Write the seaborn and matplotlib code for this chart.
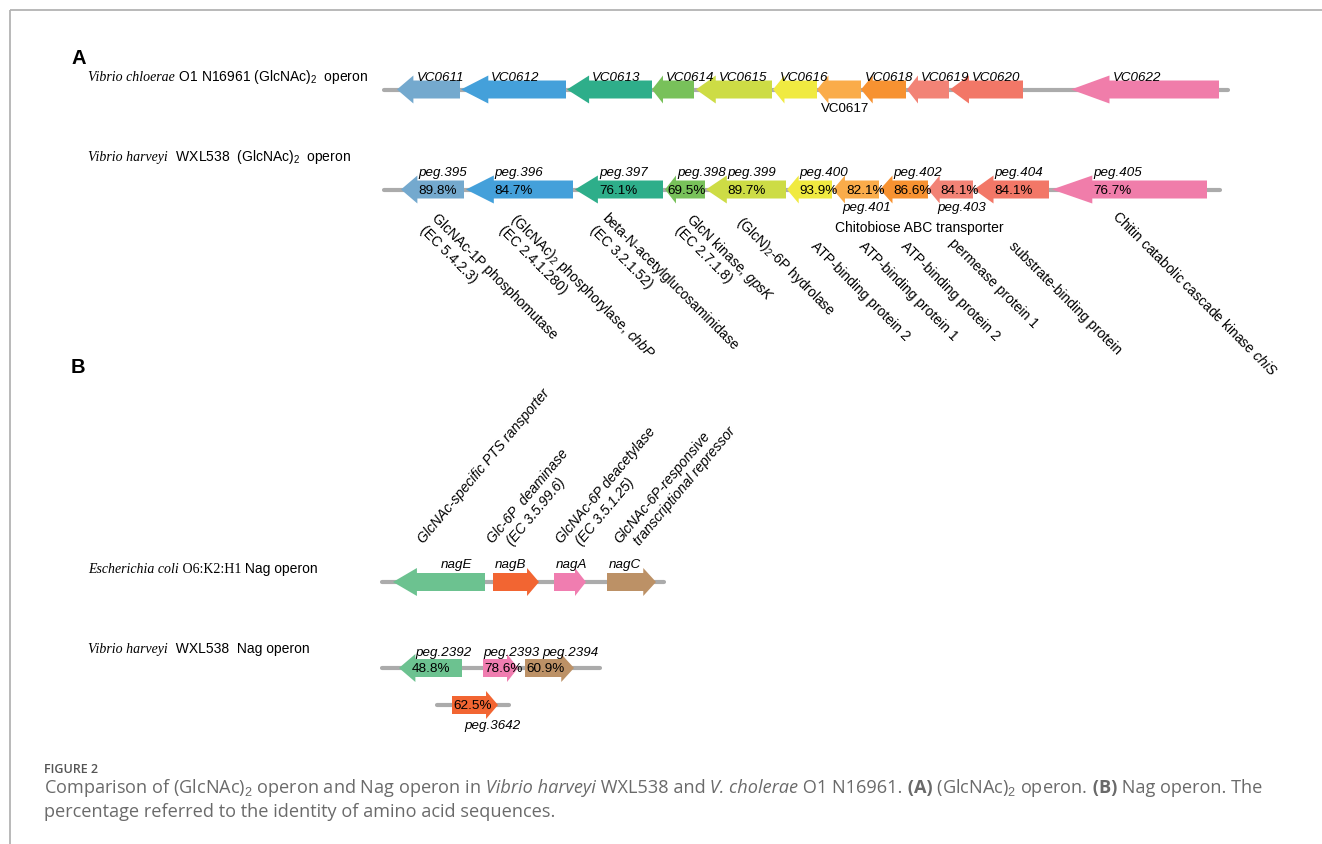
import matplotlib
matplotlib.use("Agg")
import matplotlib.pyplot as plt
from matplotlib.patches import Polygon
import numpy as np
import pandas as pd
import seaborn as sns

sns.set_theme(style="white")
plt.rcParams["font.family"] = ["Liberation Sans", "DejaVu Sans"]
plt.rcParams["text.color"] = "black"
plt.rcParams["mathtext.fontset"] = "custom"
plt.rcParams["mathtext.rm"] = "Liberation Sans"
plt.rcParams["mathtext.it"] = "Liberation Sans:italic"
plt.rcParams["mathtext.bf"] = "Liberation Sans:bold"

# ---------------------------------------------------------------- data
# (GlcNAc)2 operon of V. cholerae O1 N16961 (all genes on the minus strand)
vc_genes = ["VC0611", "VC0612", "VC0613", "VC0614", "VC0615", "VC0616",
            "VC0617", "VC0618", "VC0619", "VC0620", "VC0622"]
vc_start = [397, 461, 567, 652, 696, 773, 817, 861, 907, 950, 1071]
vc_end = [460, 566, 652, 694, 772, 817, 861, 906, 949, 1023, 1219]

# (GlcNAc)2 operon of V. harveyi WXL538 and identity to the V. cholerae homolog
vh_genes = ["peg.395", "peg.396", "peg.397", "peg.398", "peg.399", "peg.400",
            "peg.401", "peg.402", "peg.403", "peg.404", "peg.405"]
vh_start = [401, 466, 575, 665, 706, 787, 833, 880, 928, 974, 1052]
vh_end = [464, 573, 663, 705, 786, 832, 879, 928, 973, 1049, 1207]
vh_identity = [89.8, 84.7, 76.1, 69.5, 89.7, 93.9, 82.1, 86.6, 84.1, 84.1, 76.7]

chb_colors = ["#74A9CE", "#44A0DA", "#2EAE8A", "#78C15A", "#CDDC45", "#F0EA41",
              "#FAAC4A", "#F79231", "#F28376", "#F27767", "#F07DAA"]

chb_functions = [
    ["GlcNAc-1P phosphomutase", "(EC 5.4.2.3)"],
    ["(GlcNAc)$_2$ phosphorylase, $\\mathit{chbP}$", "(EC 2.4.1.280)"],
    ["beta-N-acetylglucosaminidase", "(EC 3.2.1.52)"],
    ["GlcN kinase, $\\mathit{gpsK}$", "(EC 2.7.1.8)"],
    ["(GlcN)$_2$-6P hydrolase"],
    ["ATP-binding protein 2"],
    ["ATP-binding protein 1"],
    ["ATP-binding protein 2"],
    ["permease protein 1"],
    ["substrate-binding protein"],
    ["Chitin catabolic cascade kinase $\\mathit{chiS}$"],
]

# Nag operon of E. coli O6:K2:H1
ec_genes = ["nagE", "nagB", "nagA", "nagC"]
ec_start = [393, 493, 554, 607]
ec_end = [485, 539, 586, 656]
ec_strand = [-1, 1, 1, 1]
nag_colors = ["#6CC290", "#F26532", "#F07DB0", "#BC9166"]
nag_functions = [
    ["GlcNAc-specific PTS ransporter"],
    ["Glc-6P  deaminase", "(EC 3.5.99.6)"],
    ["GlcNAc-6P deacetylase", "(EC 3.5.1.25)"],
    ["GlcNAc-6P-responsive", "transcriptional repressor"],
]

# Nag operon of V. harveyi WXL538 (peg.3642 lies elsewhere in the genome)
vhn_genes = ["peg.2392", "peg.2393", "peg.2394", "peg.3642"]
vhn_start = [399, 483, 525, 452]
vhn_end = [462, 518, 574, 498]
vhn_strand = [-1, 1, 1, 1]
vhn_identity = [48.8, 78.6, 60.9, 62.5]
vhn_homolog = ["nagE", "nagA", "nagC", "nagB"]

# ---------------------------------------------------------------- layout
W, H = 1322, 845
fig = plt.figure(figsize=(W / 100, H / 100), dpi=100)
ax = fig.add_axes([0, 0, 1, 1])

Y_VC, Y_VH, Y_EC, Y_VHN, Y_VHN2 = 90.5, 190.5, 583, 669, 706
BODY, HEAD = 9, 14

# chromosome backbones
backbone = pd.DataFrame({
    "track": ["vc", "vc", "vh", "vh", "ec", "ec", "vhn", "vhn", "vhn2", "vhn2"],
    "x": [384, 1228, 384, 1220, 382, 664, 382, 600, 437, 509],
    "y": [Y_VC, Y_VC, Y_VH, Y_VH, Y_EC, Y_EC, Y_VHN, Y_VHN, Y_VHN2, Y_VHN2],
})
sns.lineplot(data=backbone, x="x", y="y", units="track", estimator=None,
             sort=False, color="#ababab", lw=3, ax=ax, legend=False, zorder=1)


def gene(start, end, strand, y, color):
    """Draw a gene arrow, return the extent of its body."""
    length = end - start
    head = min(max(0.26 * length, 11), length)
    if strand < 0:
        tip, base, tail = start, start + head, end
    else:
        tip, base, tail = end, end - head, start
    pts = [(tip, y), (base, y - HEAD), (base, y - BODY), (tail, y - BODY),
           (tail, y + BODY), (base, y + BODY), (base, y + HEAD)]
    ax.add_patch(Polygon(pts, closed=True, fc=color, ec="none", zorder=2))
    return min(base, tail), max(base, tail)


renderer = fig.canvas.get_renderer()


def runs(x, y, parts, **common):
    """Write text pieces with different styles one after another."""
    for txt, style in parts:
        kw = dict(common)
        kw.update(style)
        t = ax.text(x, y, txt, **kw)
        x += t.get_window_extent(renderer=renderer).width


def rotated(x, y, lines, angle, spacing=17, indent=0, **kw):
    """Multi-line rotated label; (x, y) is the baseline start of line 1."""
    th = np.deg2rad(angle)
    px, py = np.sin(th), np.cos(th)       # towards the next line
    ux, uy = np.cos(th), -np.sin(th)      # along the text
    for i, line in enumerate(lines):
        shift = indent if i > 0 else 0
        ax.text(x + i * spacing * px + shift * ux,
                y + i * spacing * py + shift * uy, line, rotation=angle,
                rotation_mode="anchor", ha="left", va="baseline", **kw)


GENE_FS, PCT_FS, ROW_FS, FUNC_FS = 9.6, 9.7, 10, 10
serif_it = dict(family="Liberation Serif", style="italic")
serif = dict(family="Liberation Serif")
sans = dict()

# ---------------------------------------------------------------- panel A
ax.text(71, 58, "A", fontsize=14.5, fontweight="bold", va="center", ha="left")
runs(88, 81, [("Vibrio chloerae", serif_it),
              (" O1 N16961 (GlcNAc)$_2$  operon", sans)],
     fontsize=ROW_FS, va="baseline")
runs(88, 161, [("Vibrio harveyi", serif_it),
               ("  WXL538  (GlcNAc)$_2$  operon", sans)],
     fontsize=ROW_FS, va="baseline")

vc_nudge = {"VC0616": -8, "VC0618": -11}
for name, s, e, c in zip(vc_genes, vc_start, vc_end, chb_colors):
    lo, hi = gene(s, e, -1, Y_VC, c)
    if name == "VC0617":
        ax.text((lo + hi) / 2, 109, name, fontsize=GENE_FS, ha="center", va="center")
    else:
        ax.text(lo + 3 + vc_nudge.get(name, 0), 81, name, fontsize=GENE_FS,
                style="italic", ha="left", va="baseline")

pct_nudge = {"peg.398": -10}
for name, s, e, p, c in zip(vh_genes, vh_start, vh_end, vh_identity, chb_colors):
    lo, hi = gene(s, e, -1, Y_VH, c)
    ax.text(lo + 1 + pct_nudge.get(name, 0), Y_VH, f"{p:.1f}%", fontsize=PCT_FS,
            ha="left", va="center", zorder=3)
    if name in ("peg.401", "peg.403"):
        ax.text(lo + 22, 208, name, fontsize=GENE_FS, style="italic",
                ha="center", va="center")
    else:
        ax.text(lo + 1, 176, name, fontsize=GENE_FS, style="italic",
                ha="left", va="baseline")

ax.text(835, 228, "Chitobiose ABC transporter", fontsize=FUNC_FS,
        ha="left", va="center")
func_top = [(438, 212), (517, 212), (608, 212), (693, 212), (743, 215),
            (817, 240), (865, 240), (907, 240), (955, 237), (1015, 240),
            (1118, 210)]
for (fx, fy), lines in zip(func_top, chb_functions):
    rotated(fx - 7, fy + 7, lines, -45, fontsize=FUNC_FS)

# ---------------------------------------------------------------- panel B
ax.text(71, 368, "B", fontsize=14.5, fontweight="bold", va="center", ha="left")
runs(88, 573, [("Escherichia coli", serif_it), (" O6:K2:H1", serif),
               (" Nag operon", sans)], fontsize=ROW_FS, va="baseline")
runs(88, 653, [("Vibrio harveyi", serif_it), ("  WXL538  Nag operon", sans)],
     fontsize=ROW_FS, va="baseline")

ec_nudge = {"nagE": 22}
for name, s, e, st, c in zip(ec_genes, ec_start, ec_end, ec_strand, nag_colors):
    lo, hi = gene(s, e, st, Y_EC, c)
    ax.text(lo + 2 + ec_nudge.get(name, 0), 568, name, fontsize=GENE_FS,
            style="italic", ha="left", va="baseline")

func_start = [(424, 544), (493, 544), (562, 544), (620, 544)]
for (fx, fy), lines in zip(func_start, nag_functions):
    rotated(fx, fy, lines, 50, indent=11, fontsize=FUNC_FS, style="italic")

color_of = dict(zip(ec_genes, nag_colors))
vhn_nudge = {"peg.2394": 17}
for name, s, e, st, p, hom in zip(vhn_genes, vhn_start, vhn_end, vhn_strand,
                                  vhn_identity, vhn_homolog):
    y = Y_VHN2 if name == "peg.3642" else Y_VHN
    lo, hi = gene(s, e, st, y, color_of[hom])
    ax.text(lo + 1 - (5 if st < 0 else 0), y, f"{p:.1f}%", fontsize=PCT_FS,
            ha="left", va="center", zorder=3)
    if name == "peg.3642":
        ax.text(lo + 12, 726, name, fontsize=GENE_FS, style="italic",
                ha="left", va="center")
    else:
        ax.text(lo + vhn_nudge.get(name, 0), 656, name, fontsize=GENE_FS,
                style="italic", ha="left", va="baseline")

# ---------------------------------------------------------------- caption
cap = dict(family=["Open Sans", "DejaVu Sans"], fontsize=13.1, color="#6a6a6a",
           va="center")
ax.text(44, 770, "FIGURE 2", family=["Open Sans", "DejaVu Sans"], fontsize=9,
        fontweight="semibold", color="#555555", va="center")
runs(44, 788, [
    ("Comparison of (GlcNAc)$_2$ operon and Nag operon in", {}),
    (" Vibrio harveyi", dict(style="italic")),
    (" WXL538 and", {}),
    (" V. cholerae", dict(style="italic")),
    (" O1 N16961.", {}),
    (" (A)", dict(fontweight="bold")),
    (" (GlcNAc)$_2$ operon.", {}),
    (" (B)", dict(fontweight="bold")),
    (" Nag operon. The", {}),
], **cap)
ax.text(44, 812, "percentage referred to the identity of amino acid sequences.", **cap)

# page frame
ax.plot([10, W], [11, 11], color="#b3b3b3", lw=1.3, solid_capstyle="butt")
ax.plot([10, 10], [11, H], color="#b3b3b3", lw=1.3, solid_capstyle="butt")

ax.set_xlim(0, W)
ax.set_ylim(H, 0)
ax.axis("off")
fig.savefig("out.png", dpi=100, facecolor="white")
